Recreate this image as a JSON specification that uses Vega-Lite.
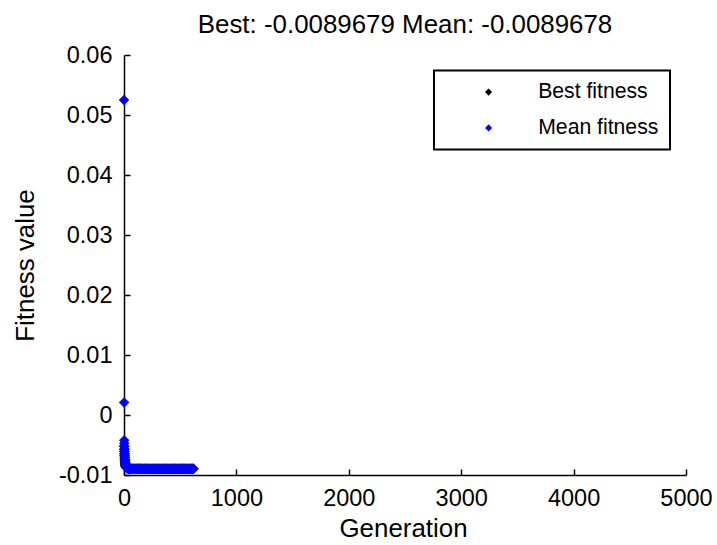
{
  "$schema": "https://vega.github.io/schema/vega-lite/v6.json",
  "width": 562,
  "height": 420,
  "autosize": {"type": "none"},
  "padding": {"left": 124, "top": 55, "right": 31, "bottom": 70},
  "background": "#ffffff",
  "title": {
    "text": "Best: -0.0089679 Mean: -0.0089678",
    "font": "Liberation Sans",
    "fontSize": 25.9,
    "fontWeight": "normal",
    "color": "#000000",
    "anchor": "middle",
    "frame": "group",
    "baseline": "alphabetic",
    "offset": -16
  },
  "data": {
    "values": [
      {"g": 0, "b": -0.0052, "m": 0.0525},
      {"g": 1, "b": -0.0057, "m": 0.0021},
      {"g": 2, "b": -0.0061, "m": -0.0042},
      {"g": 3, "b": -0.0065, "m": -0.0047},
      {"g": 4, "b": -0.0068, "m": -0.0052},
      {"g": 5, "b": -0.0071, "m": -0.0057},
      {"g": 6, "b": -0.0074, "m": -0.0061},
      {"g": 7, "b": -0.0076, "m": -0.0065},
      {"g": 8, "b": -0.0078, "m": -0.0068},
      {"g": 9, "b": -0.008, "m": -0.0071},
      {"g": 10, "b": -0.0081, "m": -0.0074},
      {"g": 11, "b": -0.0082, "m": -0.0076},
      {"g": 12, "b": -0.0083, "m": -0.0078},
      {"g": 13, "b": -0.0084, "m": -0.008},
      {"g": 14, "b": -0.0085, "m": -0.0081},
      {"g": 15, "b": -0.00855, "m": -0.0082},
      {"g": 16, "b": -0.0086, "m": -0.0083},
      {"g": 17, "b": -0.0086, "m": -0.0084},
      {"g": 18, "b": -0.00865, "m": -0.0085},
      {"g": 19, "b": -0.00865, "m": -0.00855},
      {"g": 20, "b": -0.0087, "m": -0.0086},
      {"g": 22, "b": -0.00875, "m": -0.00865},
      {"g": 24, "b": -0.0088, "m": -0.0087},
      {"g": 26, "b": -0.00883, "m": -0.00875},
      {"g": 28, "b": -0.00886, "m": -0.0088},
      {"g": 30, "b": -0.00888, "m": -0.00883},
      {"g": 33, "b": -0.0089, "m": -0.00886},
      {"g": 36, "b": -0.00891, "m": -0.00888},
      {"g": 40, "b": -0.00892, "m": -0.0089},
      {"g": 45, "b": -0.00893, "m": -0.00891},
      {"g": 50, "b": -0.00894, "m": -0.00892},
      {"g": 60, "b": -0.00895, "m": -0.00893},
      {"g": 70, "b": -0.00896, "m": -0.00894},
      {"g": 80, "b": -0.008965, "m": -0.00893},
      {"g": 90, "b": -0.008967, "m": -0.00895},
      {"g": 100, "b": -0.0089679, "m": -0.00894},
      {"g": 110, "b": -0.0089679, "m": -0.00895},
      {"g": 120, "b": -0.0089679, "m": -0.00894},
      {"g": 130, "b": -0.0089679, "m": -0.00895},
      {"g": 140, "b": -0.0089679, "m": -0.00893},
      {"g": 150, "b": -0.0089679, "m": -0.00895},
      {"g": 160, "b": -0.0089679, "m": -0.00896},
      {"g": 170, "b": -0.0089679, "m": -0.00894},
      {"g": 180, "b": -0.0089679, "m": -0.00895},
      {"g": 190, "b": -0.0089679, "m": -0.00896},
      {"g": 200, "b": -0.0089679, "m": -0.00895},
      {"g": 210, "b": -0.0089679, "m": -0.00894},
      {"g": 220, "b": -0.0089679, "m": -0.00896},
      {"g": 230, "b": -0.0089679, "m": -0.00895},
      {"g": 240, "b": -0.0089679, "m": -0.00896},
      {"g": 250, "b": -0.0089679, "m": -0.00894},
      {"g": 260, "b": -0.0089679, "m": -0.00896},
      {"g": 270, "b": -0.0089679, "m": -0.00895},
      {"g": 280, "b": -0.0089679, "m": -0.00896},
      {"g": 290, "b": -0.0089679, "m": -0.00896},
      {"g": 300, "b": -0.0089679, "m": -0.00895},
      {"g": 310, "b": -0.0089679, "m": -0.00896},
      {"g": 320, "b": -0.0089679, "m": -0.00894},
      {"g": 330, "b": -0.0089679, "m": -0.00896},
      {"g": 340, "b": -0.0089679, "m": -0.00896},
      {"g": 350, "b": -0.0089679, "m": -0.00895},
      {"g": 360, "b": -0.0089679, "m": -0.00896},
      {"g": 370, "b": -0.0089679, "m": -0.00896},
      {"g": 380, "b": -0.0089679, "m": -0.00895},
      {"g": 390, "b": -0.0089679, "m": -0.00896},
      {"g": 400, "b": -0.0089679, "m": -0.00896},
      {"g": 410, "b": -0.0089679, "m": -0.00895},
      {"g": 420, "b": -0.0089679, "m": -0.00896},
      {"g": 430, "b": -0.0089679, "m": -0.008965},
      {"g": 440, "b": -0.0089679, "m": -0.00896},
      {"g": 450, "b": -0.0089679, "m": -0.00895},
      {"g": 460, "b": -0.0089679, "m": -0.008965},
      {"g": 470, "b": -0.0089679, "m": -0.00896},
      {"g": 480, "b": -0.0089679, "m": -0.008965},
      {"g": 490, "b": -0.0089679, "m": -0.00896},
      {"g": 500, "b": -0.0089679, "m": -0.008966},
      {"g": 510, "b": -0.0089679, "m": -0.008965},
      {"g": 520, "b": -0.0089679, "m": -0.00896},
      {"g": 530, "b": -0.0089679, "m": -0.008966},
      {"g": 540, "b": -0.0089679, "m": -0.008966},
      {"g": 550, "b": -0.0089679, "m": -0.008965},
      {"g": 560, "b": -0.0089679, "m": -0.008967},
      {"g": 570, "b": -0.0089679, "m": -0.008966},
      {"g": 580, "b": -0.0089679, "m": -0.008967},
      {"g": 590, "b": -0.0089679, "m": -0.008967},
      {"g": 600, "b": -0.0089679, "m": -0.0089675},
      {"g": 610, "b": -0.0089679, "m": -0.0089677},
      {"g": 618, "b": -0.0089679, "m": -0.0089678}
    ]
  },
  "encoding": {
    "x": {
      "field": "g",
      "type": "quantitative",
      "title": "Generation",
      "scale": {"domain": [0, 5000], "nice": false, "zero": false},
      "axis": {
        "values": [0, 1000, 2000, 3000, 4000, 5000],
        "format": "d",
        "grid": false,
        "domainColor": "#000000",
        "domainWidth": 1.5,
        "tickColor": "#000000",
        "tickWidth": 1.5,
        "tickSize": -6,
        "labelPadding": 17,
        "labelFont": "Liberation Sans",
        "labelFontSize": 23.5,
        "labelColor": "#000000",
        "labelFlush": false,
        "labelOverlap": false,
        "titleFont": "Liberation Sans",
        "titleFontSize": 25.9,
        "titleFontWeight": "normal",
        "titleColor": "#000000",
        "titleBaseline": "alphabetic",
        "titleX": 279,
        "titleY": 61
      }
    }
  },
  "layer": [
    {
      "mark": {"type": "point", "filled": true, "shape": "diamond", "size": 110, "opacity": 1, "strokeWidth": 0},
      "encoding": {
        "y": {
          "field": "b",
          "type": "quantitative",
          "title": "Fitness value",
          "scale": {"domain": [-0.01, 0.06], "nice": false, "zero": false},
          "axis": {
            "values": [-0.01, 0, 0.01, 0.02, 0.03, 0.04, 0.05, 0.06],
            "labelExpr": "replace(format(datum.value, '.2~f'), '\u2212', '-')",
            "grid": false,
            "domainColor": "#000000",
            "domainWidth": 1.5,
            "tickColor": "#000000",
            "tickWidth": 1.5,
            "tickSize": -6,
            "labelPadding": 18,
            "labelFont": "Liberation Sans",
            "labelFontSize": 23.5,
            "labelColor": "#000000",
            "labelFlush": false,
            "labelOverlap": false,
            "titleFont": "Liberation Sans",
            "titleFontSize": 25.9,
            "titleFontWeight": "normal",
            "titleColor": "#000000",
            "titleAngle": -90,
            "titleBaseline": "alphabetic",
            "titleAlign": "center",
            "titleX": -91,
            "titleY": 210
          }
        },
        "color": {
          "datum": "Best fitness",
          "type": "nominal",
          "scale": {"domain": ["Best fitness", "Mean fitness"], "range": ["#000000", "#0000ff"]},
          "legend": {
            "title": null,
            "orient": "none",
            "legendX": 310,
            "legendY": 15.5,
            "symbolType": "diamond",
            "symbolSize": 50,
            "symbolStrokeWidth": 0,
            "padding": 11,
            "strokeColor": "#000000",
            "fillColor": "#ffffff",
            "symbolOffset": 33,
            "labelOffset": 39,
            "rowPadding": 13.8,
            "labelFont": "Liberation Sans",
            "labelFontSize": 21.2,
            "labelColor": "#000000",
            "labelBaseline": "middle"
          }
        }
      }
    },
    {
      "mark": {"type": "point", "filled": true, "shape": "diamond", "size": 110, "opacity": 1, "strokeWidth": 0},
      "encoding": {
        "y": {"field": "m", "type": "quantitative", "title": "Fitness value"},
        "color": {"datum": "Mean fitness", "type": "nominal"}
      }
    }
  ],
  "config": {
    "view": {"stroke": null},
    "legend": {"strokeWidth": 2}
  }
}
